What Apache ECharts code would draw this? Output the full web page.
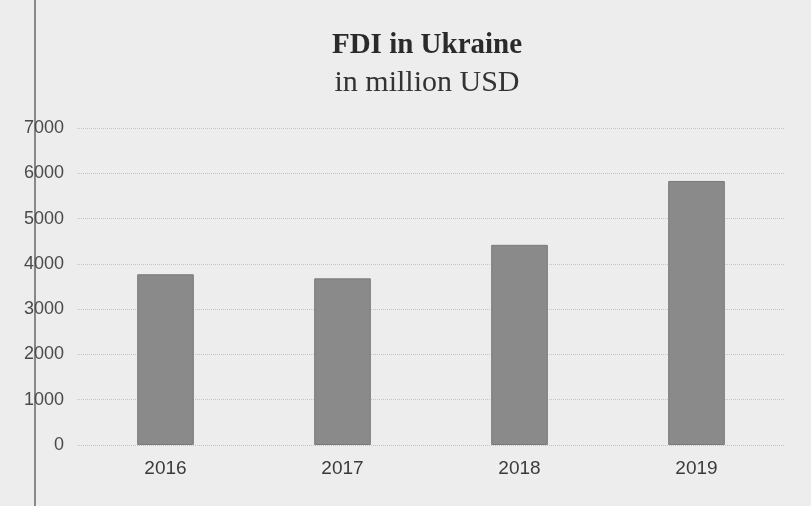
<!DOCTYPE html>
<html><head><meta charset="utf-8">
<script src="https://cdn.jsdelivr.net/npm/echarts@6/dist/echarts.min.js"></script>
<style>html,body{margin:0;padding:0;background:#ededed}#c{width:811px;height:506px}</style>
</head><body><div id="c"></div>
<script>
const categories = ['2016', '2017', '2018', '2019'];
const fdiValues = [3770, 3680, 4420, 5830];
const yTicks = [0, 1000, 2000, 3000, 4000, 5000, 6000, 7000];

const chart = echarts.init(document.getElementById('c'));
chart.setOption({
  backgroundColor: '#ededed',
  animation: false,
  title: {
    text: 'FDI in Ukraine',
    subtext: 'in million USD',
    left: 422, top: 26, textAlign: 'center',
    textStyle: {fontFamily: 'Liberation Serif', fontWeight: 'bold', fontSize: 29, color: '#2a2a2a'},
    subtextStyle: {fontFamily: 'Liberation Serif', fontSize: 30, color: '#333'},
    itemGap: 8
  },
  grid: {left: 77, right: 26, top: 128, bottom: 61},
  xAxis: {
    type: 'category', data: categories,
    axisLine: {show: false}, axisTick: {show: false},
    axisLabel: {fontFamily: 'Liberation Sans', fontSize: 19, color: '#3a3a3a', margin: 14}
  },
  yAxis: {
    type: 'value', min: yTicks[0], max: yTicks[yTicks.length - 1], interval: 1000,
    axisLine: {show: false}, axisTick: {show: false},
    axisLabel: {fontFamily: 'Liberation Sans', fontSize: 18, color: '#4a4a4a', margin: 13,
      formatter: v => String(v)},
    splitLine: {lineStyle: {color: '#c4c4c4', type: 'dotted', width: 1}}
  },
  series: [{
    type: 'bar', data: fdiValues, barWidth: '32%',
    itemStyle: {color: '#8a8a8a', borderColor: '#7a7a7a', borderWidth: 1}
  }],
  graphic: [{
    type: 'line', shape: {x1: 35, y1: 0, x2: 35, y2: 506},
    style: {stroke: '#666', lineWidth: 1.5}
  }]
});
</script></body></html>
